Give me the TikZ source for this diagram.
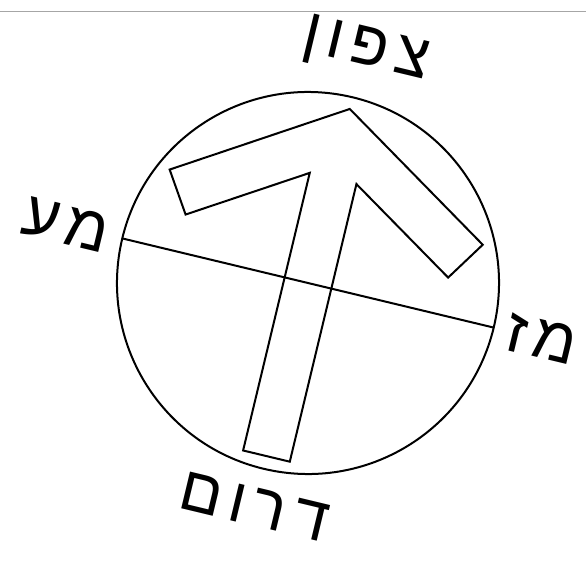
\documentclass[tikz,border=0pt]{standalone}
\usepackage{fontspec}
\newfontfamily\hebfont[Script=Hebrew,LetterSpace=12]{Liberation Sans}
\TeXXeTstate=1
\usepackage{tikz}

\begin{document}
\begin{tikzpicture}[
  x=1pt, y=1pt,
  line width=2pt,
  compasstext/.style={font=\hebfont\fontsize{63}{63}\selectfont, inner sep=0pt, rotate=-13.5},
  frameline/.style={draw=gray!70, line width=1pt}
]
\useasboundingbox (-308,-280) rectangle (278,283);
\draw[frameline] (-308,271) -- (278,271);

\begin{scope}[rotate=-13.5]
\coordinate (c) at (0,0);
\draw (c) circle [radius=191pt];
\coordinate (w) at (-191,0);
\coordinate (e) at (191,0);
\draw (w) -- (e);
% arrow outline
\draw (-24,-178) -- (-24,107.5) -- (-135,38) -- (-161,78) -- (0,179)
  -- (161,78) -- (135,38) -- (24,107.5) -- (24,-178) -- cycle;

\node[compasstext] (north) at (2,238) {\beginR צפון\endR};
\node[compasstext] (east) at (240,0) {\beginR מז\endR};
\node[compasstext] (south) at (0,-230) {\beginR דרום\endR};
\node[compasstext] (west) at (-249,0) {\beginR מע\endR};
\end{scope}
\end{tikzpicture}
\end{document}
